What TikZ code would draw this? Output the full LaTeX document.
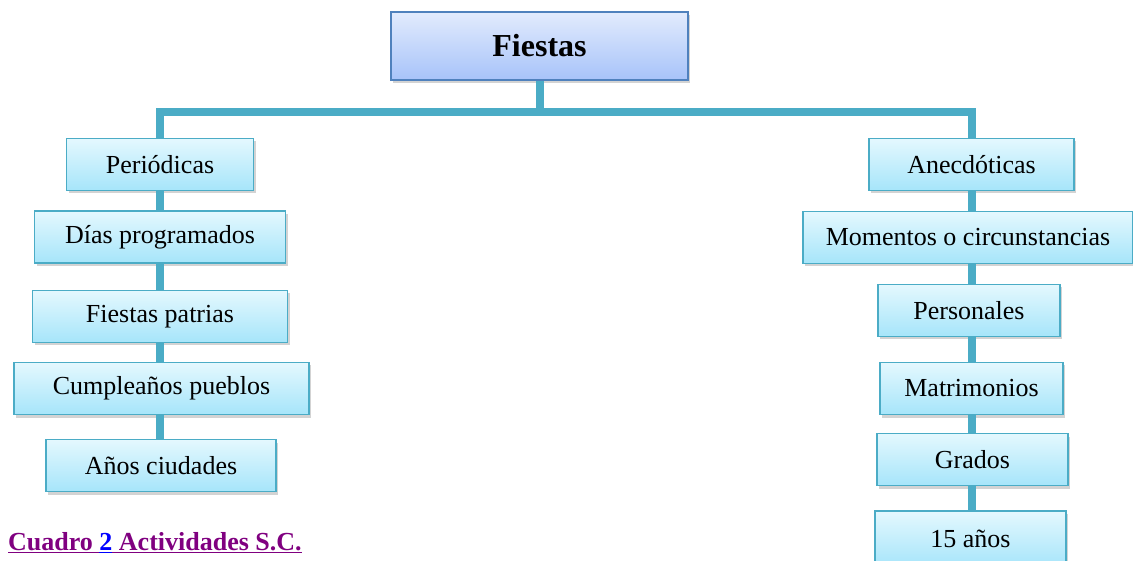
\documentclass[tikz,border=0pt]{standalone}
\usepackage{fontspec}
\setmainfont{Liberation Serif}
\usetikzlibrary{shadows}
\definecolor{linkteal}{HTML}{4BACC6}
\definecolor{cyantop}{HTML}{E4F8FE}
\definecolor{cyanbot}{HTML}{A6E5FA}
\definecolor{bluetop}{HTML}{E2EBFD}
\definecolor{bluebot}{HTML}{A7C3F9}
\definecolor{blueline}{HTML}{4F81BD}
\definecolor{capurple}{HTML}{800080}

\begin{document}
\begin{tikzpicture}[x=1pt,y=-1pt,
  box/.style={draw=linkteal, line width=1.8pt, top color=cyantop, bottom color=cyanbot,
    minimum height=52pt, inner sep=0pt, font=\fontsize{26}{30}\selectfont,
    drop shadow={shadow xshift=2pt, shadow yshift=-3pt, opacity=0.35}},
  link/.style={linkteal, line width=8pt}]
\useasboundingbox (0,0) rectangle (1133,561);
% top
\node[box, draw=blueline, top color=bluetop, bottom color=bluebot, minimum width=297pt, minimum height=68pt,
  font=\fontsize{32}{36}\selectfont\bfseries] (fiestas) at (539.5,46) {Fiestas};
\coordinate (barL) at (160,112);
\coordinate (barR) at (972,112);
% left column
\node[box, minimum width=187pt] (periodicas) at (160,164.5) {Periódicas};
\node[box, minimum width=251pt] (dias) at (160,237) {Días programados};
\node[box, minimum width=255pt] (patrias) at (160,316.5) {Fiestas patrias};
\node[box, minimum width=295pt] (pueblos) at (161.5,388.5) {Cumpleaños pueblos};
\node[box, minimum width=230pt] (ciudades) at (161,465.5) {Años ciudades};
% right column
\node[box, minimum width=205pt] (anecdoticas) at (971.5,164.5) {Anecdóticas};
\node[box, minimum width=330pt] (momentos) at (968,237.5) {Momentos o circunstancias};
\node[box, minimum width=182pt] (personales) at (969,310.5) {Personales};
\node[box, minimum width=183pt] (matrimonios) at (971.5,388.5) {Matrimonios};
\node[box, minimum width=191pt] (grados) at (972.5,459.5) {Grados};
\node[box, minimum width=191pt, minimum height=56pt] (quince) at (970.5,539) {15 años};
% connectors
\draw[link] (fiestas.south) -- (fiestas.south |- barL);
\draw[link] (barL |- periodicas.north) -- (barL) -- (barR) -- (barR |- anecdoticas.north);
\draw[link] (barL |- periodicas.south) -- (barL |- dias.north);
\draw[link] (barL |- dias.south) -- (barL |- patrias.north);
\draw[link] (barL |- patrias.south) -- (barL |- pueblos.north);
\draw[link] (barL |- pueblos.south) -- (barL |- ciudades.north);
\draw[link] (barR |- anecdoticas.south) -- (barR |- momentos.north);
\draw[link] (barR |- momentos.south) -- (barR |- personales.north);
\draw[link] (barR |- personales.south) -- (barR |- matrimonios.north);
\draw[link] (barR |- matrimonios.south) -- (barR |- grados.north);
\draw[link] (barR |- grados.south) -- (barR |- quince.north);
% caption
\node[anchor=west, inner sep=0pt, font=\fontsize{26}{30}\selectfont\bfseries, text=capurple] (caption) at (8,543)
  {\underline{Cuadro }\textcolor{blue}{\underline{2}}\underline{ Actividades S.C.}};
\end{tikzpicture}
\end{document}
